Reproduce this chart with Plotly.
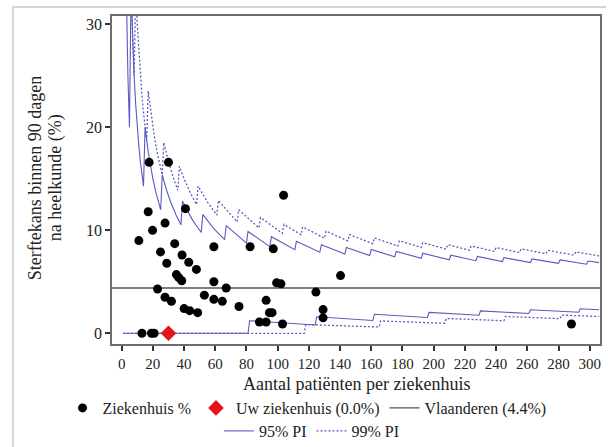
import plotly.graph_objects as go

# ---------------- data ----------------
hosp_n = [17.6, 30.0, 40.9, 17.0, 27.8, 19.8, 11.0, 34.0, 59.1, 24.9, 38.7, 28.9,
          43.0, 47.9, 35.1, 36.6, 38.5, 59.1, 67.0, 23.0, 27.8, 31.9, 53.0, 59.1,
          64.5, 75.2, 40.0, 43.6, 48.7, 82.3, 97.2, 103.8, 99.3, 102.1, 92.6, 94.7,
          96.4, 88.3, 92.6, 103.1, 124.5, 129.1, 129.1, 140.3, 288.3, 13.0, 19.1, 20.8]
hosp_pct = [16.6, 16.6, 12.1, 11.8, 10.7, 10.0, 9.0, 8.7, 8.4, 7.9, 7.6, 6.8,
            6.9, 6.2, 5.7, 5.4, 5.1, 5.0, 4.4, 4.3, 3.5, 3.1, 3.7, 3.3,
            3.1, 2.6, 2.4, 2.2, 2.0, 8.4, 8.2, 13.4, 4.9, 4.8, 3.2, 2.0,
            2.0, 1.1, 1.1, 0.9, 4.0, 2.3, 1.5, 5.6, 0.9, 0.0, 0.0, 0.0]

your_n = [30.0]
your_pct = [0.0]

vlaanderen_pct = 4.4

# 95% prediction interval (upper / lower), vertices of the saw-tooth
pi95_up_n = [1, 2, 3, 4, 5,
             6, 7, 8, 9, 10, 11, 12, 13, 14,
             15, 17, 20, 22, 25,
             26, 29, 32, 35, 38,
             39, 42, 45, 48, 51,
             52, 59, 66, 67, 80, 81, 95, 96, 111, 112, 127, 128, 143, 144, 159,
             160, 175, 176, 192, 193, 210, 211, 227, 228, 244, 245, 262, 263, 280,
             281, 298, 299, 306]
pi95_up = [100.0, 50.0, 33.33, 25.0, 20.0,
           33.33, 28.57, 25.0, 22.22, 20.0, 18.18, 16.67, 15.38, 14.29,
           20.0, 17.65, 15.0, 13.64, 12.0,
           15.38, 13.79, 12.5, 11.43, 10.53,
           12.82, 11.9, 11.11, 10.42, 9.8,
           11.54, 10.17, 9.09, 10.45, 8.75, 9.88, 8.42, 9.38, 8.11, 8.93, 7.87,
           8.59, 7.69, 8.33, 7.55,
           8.13, 7.43, 7.95, 7.29, 7.77, 7.14, 7.58, 7.05, 7.46, 6.97, 7.35, 6.87,
           7.22, 6.79, 7.12, 6.71, 7.02, 6.86]
pi95_lo_n = [1, 81, 82, 124, 125, 161, 162, 196, 197, 229, 230, 261, 262, 293, 294, 306]
pi95_lo = [0.0, 0.0, 1.22, 0.81, 1.6, 1.24, 1.85, 1.53, 2.03, 1.75, 2.17, 1.92,
           2.29, 2.05, 2.38, 2.29]

# 99% prediction interval (upper / lower)
pi99_up_n = [1, 2, 3, 4, 5, 6, 7, 8,
             9, 10, 11, 12, 13, 14, 15, 16,
             17, 19, 21, 23, 26,
             27, 30, 33, 36,
             37, 40, 44, 48,
             49, 55, 61, 62, 74, 75, 88, 89, 103, 104, 115, 116, 130, 131, 145,
             146, 161, 162, 177, 178, 192, 193, 208, 209, 223, 224, 239, 240, 255,
             256, 272, 273, 290, 291, 306]
pi99_up = [100.0, 50.0, 66.67, 50.0, 40.0, 33.33, 28.57, 25.0,
           33.33, 30.0, 27.27, 25.0, 23.08, 21.43, 20.0, 18.75,
           23.53, 21.05, 19.05, 17.39, 15.38,
           18.52, 16.67, 15.15, 13.89,
           16.22, 15.0, 13.64, 12.5,
           14.29, 12.73, 11.48, 12.9, 10.81, 12.0, 10.23, 11.24, 9.71, 10.58, 9.57,
           10.34, 9.23, 9.92, 8.97,
           9.59, 8.7, 9.26, 8.47, 8.99, 8.33, 8.81, 8.17, 8.61, 8.07, 8.48, 7.95,
           8.33, 7.84, 8.2, 7.72, 8.06, 7.59, 7.9, 7.52]
pi99_lo_n = [1, 117, 118, 165, 166, 207, 208, 245, 246, 281, 282, 306]
pi99_lo = [0.0, 0.0, 0.85, 0.61, 1.2, 0.97, 1.44, 1.22, 1.63, 1.42, 1.77, 1.63]

x_ticks = list(range(0, 301, 20))
y_ticks = [0, 10, 20, 30]
x_range = [-6.2, 306.6]
y_range = [-1.04, 30.81]

# ---------------- styling ----------------
SERIF = "Liberation Serif"
PI_COLOR = "#5a5ac2"
W, H = 608, 447
ML, MR, MT, MB = 112, 6, 16, 103

fig = go.Figure()

fig.add_trace(go.Scatter(x=pi95_up_n, y=pi95_up, mode="lines", name="95% PI",
                         legend="legend2", legendgroup="pi95", legendrank=4,
                         line=dict(color=PI_COLOR, width=1.1)))
fig.add_trace(go.Scatter(x=pi95_lo_n, y=pi95_lo, mode="lines", name="95% PI",
                         legend="legend2", legendgroup="pi95", showlegend=False,
                         line=dict(color=PI_COLOR, width=1.1)))
fig.add_trace(go.Scatter(x=pi99_up_n, y=pi99_up, mode="lines", name="99% PI",
                         legend="legend2", legendgroup="pi99", legendrank=5,
                         line=dict(color=PI_COLOR, width=1.3, dash="2px,2px")))
fig.add_trace(go.Scatter(x=pi99_lo_n, y=pi99_lo, mode="lines", name="99% PI",
                         legend="legend2", legendgroup="pi99", showlegend=False,
                         line=dict(color=PI_COLOR, width=1.3, dash="2px,2px")))

fig.add_trace(go.Scatter(x=x_range, y=[vlaanderen_pct, vlaanderen_pct], mode="lines",
                         name="Vlaanderen (4.4%)", legend="legend", legendrank=3,
                         line=dict(color="#555555", width=1.3)))

fig.add_trace(go.Scatter(x=hosp_n, y=hosp_pct, mode="markers", name="Ziekenhuis %",
                         legend="legend", legendrank=1,
                         marker=dict(color="black", size=9, line=dict(width=0))))
fig.add_trace(go.Scatter(x=your_n, y=your_pct, mode="markers",
                         name="Uw ziekenhuis (0.0%)", legend="legend", legendrank=2,
                         marker=dict(color="#e4131b", size=12, symbol="diamond",
                                     line=dict(width=0))))

axis_common = dict(showgrid=False, zeroline=False, showline=True, mirror=True,
                   linecolor="#6e6e6e", linewidth=1.5, ticks="outside", ticklen=5,
                   tickwidth=1.5, tickcolor="#333333",
                   tickfont=dict(family=SERIF, size=15, color="#222222"))

fig.update_xaxes(range=x_range, tickmode="array", tickvals=x_ticks, **axis_common)
fig.update_yaxes(range=y_range, tickmode="array", tickvals=y_ticks, **axis_common)
fig.update_yaxes(tickfont=dict(size=16))

def px_x(px):
    return (px - ML) / (W - ML - MR)

def px_y(py):
    return (H - MB - py) / (H - MT - MB)

fig.update_layout(
    width=W, height=H,
    margin=dict(l=ML, r=MR, t=MT, b=MB),
    paper_bgcolor="white", plot_bgcolor="white",
    font=dict(family=SERIF, color="#222222"),
    legend=dict(orientation="h", xref="container", yref="container",
                x=0.505, xanchor="center", y=1 - 408 / H, yanchor="middle",
                font=dict(family=SERIF, size=16, color="#222222"),
                bgcolor="rgba(0,0,0,0)", tracegroupgap=0, itemclick=False),
    legend2=dict(orientation="h", xref="container", yref="container",
                 x=0.513, xanchor="center", y=1 - 431 / H, yanchor="middle",
                 font=dict(family=SERIF, size=16, color="#222222"),
                 bgcolor="rgba(0,0,0,0)", tracegroupgap=0, itemclick=False),
    annotations=[
        dict(text="Sterftekans binnen 90 dagen", xref="paper", yref="paper",
             x=px_x(35), y=px_y(178), textangle=-90, showarrow=False,
             xanchor="center", yanchor="middle",
             font=dict(family=SERIF, size=18, color="#222222")),
        dict(text="na heelkunde (%)", xref="paper", yref="paper",
             x=px_x(55), y=px_y(178), textangle=-90, showarrow=False,
             xanchor="center", yanchor="middle",
             font=dict(family=SERIF, size=18, color="#222222")),
        dict(text="Aantal patiënten per ziekenhuis", xref="paper", yref="paper",
             x=0.5, y=px_y(384), showarrow=False, xanchor="center", yanchor="middle",
             font=dict(family=SERIF, size=18, color="#222222")),
    ],
    shapes=[
        dict(type="line", xref="paper", yref="paper", x0=px_x(12.5), x1=px_x(12.5),
             y0=px_y(447), y1=px_y(7), line=dict(color="#c8c8c8", width=1.5)),
        dict(type="line", xref="paper", yref="paper", x0=px_x(12.5), x1=px_x(608),
             y0=px_y(7), y1=px_y(7), line=dict(color="#c8c8c8", width=1.5)),
    ],
)

html = fig.to_html(include_plotlyjs=True, full_html=True,
                   config={"displayModeBar": False, "staticPlot": False})
html = html.replace("<head>", "<head><style>html,body{margin:0;padding:0;overflow:hidden;}</style>", 1)
with open("out.html", "w", encoding="utf-8") as f:
    f.write(html)
